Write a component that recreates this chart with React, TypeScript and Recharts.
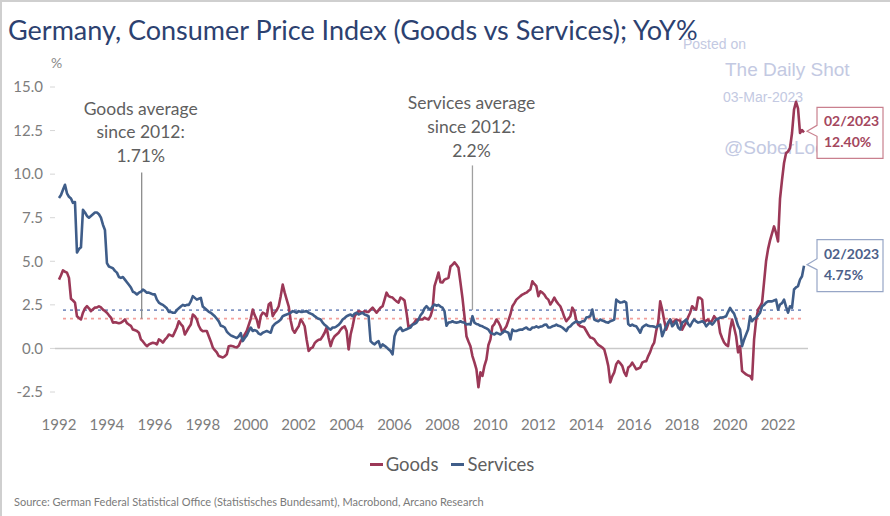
import React from "react";
import { LineChart, Line, XAxis, YAxis, ReferenceLine, ReferenceDot } from "recharts";

// Monthly YoY %, Jan 1992 .. Feb 2023
const goods: number[] = [
  3.95, 4.2, 4.48, 4.4, 4.35, 4.05, 2.85, 2.75, 2.63, 1.85, 1.75, 1.66, // 1992
  2.05, 2.3, 2.42, 2.3, 2.14, 2.25, 2.34, 2.35, 2.42, 2.35, 2.23, 2.15, // 1993
  2.05, 1.9, 1.77, 1.48, 1.5, 1.48, 1.45, 1.48, 1.55, 1.66, 1.45, 1.37, // 1994
  1.3, 1.08, 1.05, 1.0, 0.9, 0.52, 0.4, 0.25, 0.13, 0.23, 0.28, 0.33, // 1995
  0.3, 0.23, 0.52, 0.45, 0.33, 0.5, 0.62, 0.8, 0.75, 0.7, 0.95, 1.2, // 1996
  1.56, 1.4, 1.27, 0.8, 1.0, 1.2, 1.37, 1.95, 1.85, 1.66, 1.3, 1.08, // 1997
  0.99, 1.0, 1.0, 0.7, 0.4, 0.06, -0.1, -0.23, -0.44, -0.48, -0.52, -0.45, // 1998
  -0.34, 0.13, 0.15, 0.13, 0.08, 0.06, 0.15, 0.42, 0.6, 0.8, 1.0, 1.35, // 1999
  1.7, 2.23, 1.9, 1.66, 1.2, 1.85, 2.05, 2.0, 1.85, 2.52, 2.63, 1.85, // 2000
  2.05, 2.2, 2.42, 3.0, 3.66, 3.2, 2.8, 2.42, 1.6, 1.08, 0.9, 1.1, // 2001
  1.27, 1.66, 1.5, 1.27, 0.5, -0.15, 0.0, 0.06, 0.3, 0.42, 0.5, 0.52, // 2002
  0.7, 0.9, 1.2, 0.6, 0.13, 0.5, 0.7, 0.8, 0.9, 1.08, 1.2, 1.27, // 2003
  1.0, -0.06, 0.8, 1.27, 1.85, 2.0, 2.14, 2.1, 2.05, 2.14, 2.1, 2.1, // 2004
  2.23, 2.34, 2.2, 2.05, 2.2, 2.34, 2.42, 2.8, 3.2, 3.0, 2.95, 2.92, // 2005
  2.8, 2.7, 2.63, 2.92, 2.85, 2.75, 2.05, 1.2, 1.3, 1.37, 1.5, 1.66, // 2006
  1.66, 1.66, 1.66, 1.77, 1.7, 1.66, 1.85, 2.23, 3.57, 3.95, 4.35, 3.8, // 2007
  3.78, 3.95, 4.0, 4.05, 4.7, 4.8, 4.94, 4.8, 4.63, 3.78, 2.9, 1.85, // 2008
  0.7, 0.4, 0.13, -0.44, -0.8, -1.2, -2.23, -1.37, -1.58, -1.0, -0.63, 0.2, // 2009
  0.52, 1.27, 1.4, 1.66, 1.5, 1.27, 0.9, 1.1, 1.27, 1.6, 1.95, 2.42, // 2010
  2.6, 2.8, 2.9, 3.0, 3.09, 3.15, 3.2, 3.3, 3.38, 3.85, 3.7, 3.57, // 2011
  3.0, 3.28, 3.2, 3.09, 2.9, 2.8, 2.52, 2.7, 2.92, 2.7, 2.55, 2.42, // 2012
  2.14, 1.8, 1.56, 1.7, 1.85, 2.34, 2.14, 1.6, 1.37, 1.27, 1.25, 1.2, // 2013
  1.0, 0.8, 0.63, 0.6, 0.52, 0.34, 0.2, 0.13, 0.05, -0.06, -0.5, -1.0, // 2014
  -1.95, -1.6, -1.37, -0.9, -0.73, -0.85, -1.0, -1.37, -1.58, -1.1, -1.0, -0.82, // 2015
  -1.0, -1.2, -1.15, -1.1, -0.82, -0.75, -0.73, -0.44, -0.2, 0.13, 0.34, 1.0, // 2016
  1.48, 2.7, 2.23, 1.6, 1.08, 1.4, 1.66, 1.48, 1.55, 1.66, 1.62, 1.6, // 2017
  1.08, 1.3, 1.48, 1.8, 2.05, 2.42, 2.3, 2.23, 2.92, 2.9, 2.8, 1.48, // 2018
  1.6, 1.66, 1.48, 1.6, 1.85, 1.7, 1.66, 0.9, 0.6, 0.34, 0.2, 0.13, // 2019
  1.08, 1.66, 1.2, 0.7, -0.23, 0.13, -1.3, -1.4, -1.49, -1.55, -1.58, -1.77, // 2020
  0.5, 1.6, 2.23, 2.4, 2.63, 3.8, 5.0, 5.7, 6.2, 6.6, 7.0, 6.63, // 2021
  6.14, 8.6, 9.67, 10.64, 11.2, 11.3, 11.5, 12.36, 13.7, 14.15, 13.78, 12.36, // 2022
  12.53, 12.4, // 2023
];

const services: number[] = [
  8.63, 8.8, 9.1, 9.39, 8.9, 8.7, 8.6, 8.35, 8.4, 5.5, 5.7, 5.8, // 1992
  7.95, 7.8, 7.6, 7.5, 7.6, 7.7, 7.8, 7.8, 7.7, 7.5, 7.1, 6.8, // 1993
  4.9, 4.7, 4.65, 4.6, 4.45, 4.35, 4.1, 4.05, 4.1, 3.95, 3.8, 3.65, // 1994
  3.5, 3.25, 3.2, 3.1, 3.2, 3.25, 3.38, 3.3, 3.2, 3.2, 3.15, 3.1, // 1995
  3.1, 2.8, 2.63, 2.55, 2.5, 2.4, 2.3, 2.1, 2.1, 2.05, 2.05, 2.2, // 1996
  2.3, 2.4, 2.5, 2.45, 2.5, 2.5, 2.7, 3.0, 2.9, 2.8, 2.85, 2.9, // 1997
  2.4, 2.3, 2.2, 2.1, 2.05, 1.95, 1.85, 1.7, 1.55, 1.3, 1.27, 1.2, // 1998
  0.97, 0.85, 0.75, 0.7, 0.65, 0.6, 0.7, 0.88, 0.42, 0.6, 0.75, 1.0, // 1999
  1.2, 1.0, 1.05, 1.0, 0.85, 0.8, 0.9, 0.95, 1.0, 0.95, 0.9, 1.27, // 2000
  1.4, 1.48, 1.55, 1.66, 1.85, 1.9, 1.95, 2.0, 2.05, 2.14, 2.1, 2.05, // 2001
  2.14, 2.1, 2.1, 2.12, 2.14, 2.05, 2.0, 1.95, 1.85, 1.77, 1.7, 1.66, // 2002
  1.48, 1.35, 1.27, 1.15, 1.08, 1.2, 1.2, 1.27, 1.35, 1.48, 1.66, 1.75, // 2003
  1.85, 1.9, 1.95, 1.85, 2.0, 2.05, 1.95, 2.0, 2.05, 1.95, 1.9, 1.85, // 2004
  0.42, 0.3, 0.23, 0.35, 0.42, 0.06, 0.23, 0.15, 0.06, -0.05, -0.15, -0.34, // 2005
  0.7, 1.0, 1.1, 1.2, 1.0, 1.05, 1.1, 1.15, 1.2, 1.37, 1.4, 1.48, // 2006
  1.66, 1.9, 2.05, 2.3, 2.42, 2.3, 2.23, 2.4, 2.52, 2.45, 2.5, 2.4, // 2007
  2.34, 2.14, 1.3, 1.48, 1.5, 1.56, 1.5, 1.48, 1.5, 1.56, 1.5, 1.48, // 2008
  1.37, 1.4, 1.37, 1.85, 1.48, 1.4, 1.37, 1.3, 1.27, 1.2, 1.15, 1.08, // 2009
  0.9, 0.85, 0.8, 0.9, 0.85, 0.8, 0.9, 1.0, 0.95, 0.9, 0.52, 1.08, // 2010
  1.0, 1.0, 1.05, 1.08, 1.08, 1.15, 1.2, 1.1, 1.08, 1.2, 1.2, 1.27, // 2011
  1.2, 1.25, 1.27, 1.35, 1.37, 1.2, 1.2, 1.27, 1.3, 1.37, 1.3, 1.27, // 2012
  1.2, 1.1, 1.0, 1.2, 1.27, 1.4, 1.48, 1.56, 1.5, 1.48, 1.56, 1.56, // 2013
  1.77, 1.8, 1.85, 2.23, 1.66, 1.6, 1.56, 1.66, 1.6, 1.56, 1.5, 1.48, // 2014
  1.56, 1.6, 1.66, 2.8, 2.7, 2.63, 2.65, 2.7, 2.63, 1.4, 1.3, 1.37, // 2015
  1.3, 1.27, 1.1, 0.9, 1.2, 1.3, 1.37, 1.3, 1.27, 1.27, 1.25, 1.2, // 2016
  1.3, 1.37, 0.7, 1.0, 1.27, 1.5, 1.66, 1.27, 1.4, 1.56, 1.2, 1.08, // 2017
  1.48, 1.55, 1.66, 1.4, 1.27, 1.5, 1.66, 1.55, 1.48, 1.52, 1.56, 1.5, // 2018
  1.27, 1.4, 1.48, 1.37, 1.5, 1.66, 1.7, 1.77, 1.77, 1.8, 1.85, 2.1, // 2019
  2.33, 2.14, 2.0, 1.66, 1.3, 1.08, 0.13, 0.5, 0.8, 1.08, 1.85, 1.56, // 2020
  1.7, 1.77, 1.9, 2.05, 2.42, 2.5, 2.63, 2.7, 2.7, 2.7, 2.75, 2.8, // 2021
  2.23, 2.52, 2.6, 2.8, 2.4, 2.05, 2.42, 2.34, 3.38, 3.5, 3.57, 3.95, // 2022
  4.14, 4.75, // 2023
];

const startYear = 1992;
const tickYears = [1992, 1994, 1996, 1998, 2000, 2002, 2004, 2006, 2008, 2010, 2012, 2014, 2016, 2018, 2020, 2022];
const yTicks = [-2.5, 0, 2.5, 5, 7.5, 10, 12.5, 15];
const goodsAvg = 1.71;
const servicesAvg = 2.2;
const goodsAvgMarkYear = 1995.45;
const servicesAvgMarkYear = 2009.25;
const lastLabel = "02/2023";

const GOODS = "#9b3857";
const SERV = "#3f5d89";
const FONT = "Lato, 'Open Sans', sans-serif";

const data = goods.map((g, i) => ({ m: i, goods: g, services: services[i] }));
const lastIdx = data.length - 1;
const toM = (year: number) => (year - startYear) * 12;

const AnnotationText = (lines: string[], offsets: number[]) => (props: any) => {
  const { cx, cy } = props;
  return (
    <g>
      {lines.map((l, i) => (
        <text key={i} x={cx - 1} y={cy + offsets[i]} textAnchor="middle" fontFamily={FONT} fontSize={17.5} fill="#5f5f5f">
          {l}
        </text>
      ))}
    </g>
  );
};

const Callout = (value: string, stroke: string, color: string, top: number, bottom: number) => (props: any) => {
  const { cx, cy } = props;
  const bx = cx + 13;
  const bw = 66;
  const tipY = cy - 1;
  const path = `M ${bx} ${cy + top} L ${bx + bw} ${cy + top} L ${bx + bw} ${cy + bottom} L ${bx} ${cy + bottom} L ${bx} ${tipY + 5} L ${cx + 3} ${tipY} L ${bx} ${tipY - 6} Z`;
  return (
    <g>
      <path d={path} fill="#ffffff" stroke={stroke} strokeWidth={1.2} />
      <text x={bx + 7} y={cy + top + 19} fontFamily={FONT} fontSize={14} fontWeight={700} fill={color}>
        {lastLabel}
      </text>
      <text x={bx + 7} y={cy + top + 40} fontFamily={FONT} fontSize={14} fontWeight={700} fill={color}>
        {value}
      </text>
    </g>
  );
};

const wm: React.CSSProperties = {
  position: "absolute",
  fontFamily: "'Liberation Sans', Arial, sans-serif",
  color: "#c3c9e2",
  whiteSpace: "nowrap",
  lineHeight: 1,
};

export default function App() {
  return (
    <div
      style={{
        position: "absolute",
        left: 0,
        top: 0,
        width: 890,
        height: 516,
        background: "#ffffff",
        overflow: "hidden",
        borderTop: "2px solid #cfcfcf",
        borderLeft: "2px solid #cfcfcf",
        boxSizing: "border-box",
      }}
    >
      <div style={{ position: "absolute", left: 6, top: 14, fontFamily: FONT, fontSize: 27, color: "#2c4170", whiteSpace: "nowrap", lineHeight: 1 }}>
        Germany, Consumer Price Index (Goods vs Services); YoY%
      </div>
      <div style={{ ...wm, left: 681, top: 35, fontSize: 14 }}>Posted on</div>
      <div style={{ ...wm, left: 723, top: 58, fontSize: 19 }}>The Daily Shot</div>
      <div style={{ ...wm, left: 721, top: 88, fontSize: 14 }}>03-Mar-2023</div>
      <div style={{ ...wm, left: 722, top: 136, fontSize: 19 }}>@SoberLook</div>
      <div style={{ position: "absolute", left: 49, top: 52, fontFamily: FONT, fontSize: 14, color: "#8a8a8a" }}>%</div>

      <div style={{ position: "absolute", left: -2, top: -2 }}>
        <LineChart width={890} height={516} data={data} margin={{ top: 87, right: 82, bottom: 94, left: 0 }}>
          <XAxis
            type="number"
            dataKey="m"
            domain={[-2, 375]}
            ticks={tickYears.map(toM)}
            tickFormatter={(m: number) => String(startYear + Math.round(m / 12))}
            axisLine={false}
            tickLine={false}
            tickMargin={21}
            height={30}
            tick={{ fontFamily: FONT, fontSize: 15, fill: "#7d7d7d" }}
            interval={0}
          />
          <YAxis
            type="number"
            domain={[-2.5, 15]}
            ticks={yTicks}
            tickFormatter={(v: number) => v.toFixed(1)}
            axisLine={false}
            tickLine={{ stroke: "#d6d6d6" }}
            tickSize={5}
            tickMargin={7}
            width={55}
            tick={{ fontFamily: FONT, fontSize: 15, fill: "#7d7d7d" }}
            interval={0}
          />
          <ReferenceLine y={0} stroke="#c9c9c9" strokeWidth={1.5} />
          <ReferenceLine
            segment={[{ x: 2, y: servicesAvg }, { x: lastIdx, y: servicesAvg }]}
            stroke="#7f94c2"
            strokeWidth={1.6}
            strokeDasharray="3 4"
          />
          <ReferenceLine
            segment={[{ x: 2, y: goodsAvg }, { x: lastIdx, y: goodsAvg }]}
            stroke="#f2a09c"
            strokeWidth={1.6}
            strokeDasharray="3 4"
          />
          <ReferenceLine
            segment={[{ x: toM(goodsAvgMarkYear), y: goodsAvg }, { x: toM(goodsAvgMarkYear), y: 10.1 }]}
            stroke="#8c8c8c"
            strokeWidth={1.3}
          />
          <ReferenceLine
            segment={[{ x: toM(servicesAvgMarkYear), y: servicesAvg }, { x: toM(servicesAvgMarkYear), y: 10.5 }]}
            stroke="#a0a0a0"
            strokeWidth={1.3}
          />
          <Line type="linear" dataKey="goods" stroke={GOODS} strokeWidth={2.6} dot={false} isAnimationActive={false} strokeLinejoin="round" />
          <Line type="linear" dataKey="services" stroke={SERV} strokeWidth={2.6} dot={false} isAnimationActive={false} strokeLinejoin="round" />
          <ReferenceDot
            x={toM(goodsAvgMarkYear)}
            y={10.1}
            r={0}
            shape={AnnotationText(["Goods average", "since 2012:", "1.71%"], [-57, -34, -10])}
          />
          <ReferenceDot
            x={toM(servicesAvgMarkYear)}
            y={10.5}
            r={0}
            shape={AnnotationText(["Services average", "since 2012:", "2.2%"], [-56, -32, -8])}
          />
          <ReferenceDot
            x={lastIdx}
            y={goods[lastIdx]}
            r={0}
            shape={Callout(goods[lastIdx].toFixed(2) + "%", "#c9808e", "#a4475e", -25, 26)}
          />
          <ReferenceDot
            x={lastIdx}
            y={services[lastIdx]}
            r={0}
            shape={Callout(services[lastIdx].toFixed(2) + "%", "#97a6c6", "#4d6189", -26, 26)}
          />
        </LineChart>
      </div>

      <div
        style={{
          position: "absolute",
          left: 0,
          width: 900,
          top: 451,
          display: "flex",
          justifyContent: "center",
          alignItems: "center",
          fontFamily: FONT,
          fontSize: 18.5,
          color: "#5f5f5f",
          gap: 13,
        }}
      >
        <span style={{ display: "inline-flex", alignItems: "center", gap: 3 }}>
          <span style={{ display: "inline-block", width: 13, height: 3, background: GOODS }} />
          Goods
        </span>
        <span style={{ display: "inline-flex", alignItems: "center", gap: 3 }}>
          <span style={{ display: "inline-block", width: 13, height: 3, background: SERV }} />
          Services
        </span>
      </div>
      <div style={{ position: "absolute", left: 12, top: 493, fontFamily: FONT, fontSize: 11, color: "#7a7a7a", whiteSpace: "nowrap" }}>
        Source: German Federal Statistical Office (Statistisches Bundesamt), Macrobond, Arcano Research
      </div>
    </div>
  );
}
